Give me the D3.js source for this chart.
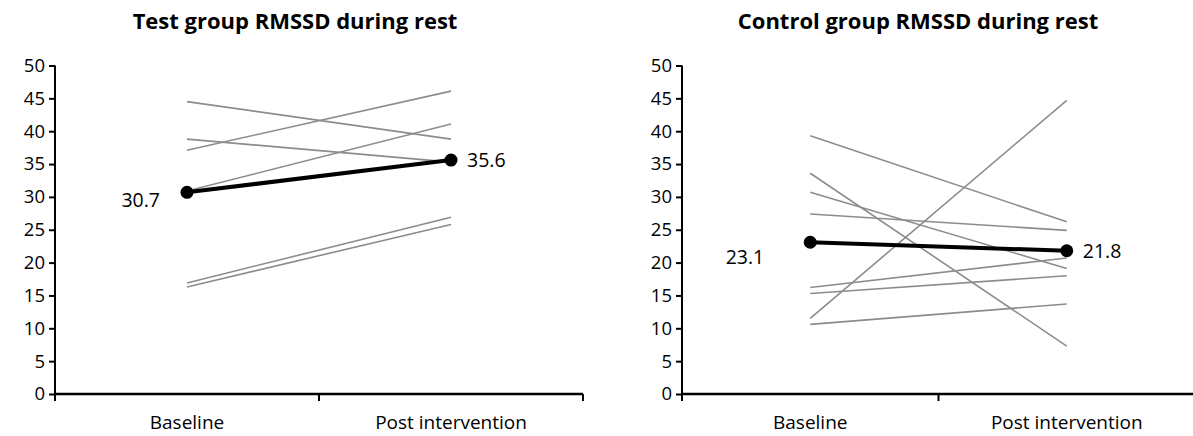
<!DOCTYPE html>
<html>
<head>
<meta charset="utf-8">
<script src="https://cdn.jsdelivr.net/npm/d3@7"></script>
<style>
  body { margin: 0; background: #fff; }
  svg text { font-family: "Open Sans", "Noto Sans", sans-serif; fill: #000; }
</style>
</head>
<body>
<section></section>
<script>
// categories and axis ticks
var phases = ["Baseline", "Post intervention"];
var yTicks = [0, 5, 10, 15, 20, 25, 30, 35, 40, 45, 50];

// test group: one [baseline, post] pair per subject
var testSubjects = [
  [44.5, 38.8],
  [38.8, 35.3],
  [37.1, 46.1],
  [30.9, 41.1],
  [16.9, 26.9],
  [16.3, 25.8]
];
var testMean = [30.7, 35.6];

// control group
var controlSubjects = [
  [39.3, 26.2],
  [33.6, 7.3],
  [30.7, 19.1],
  [27.4, 24.9],
  [16.2, 20.7],
  [15.3, 18.0],
  [11.5, 44.7],
  [10.6, 13.7]
];
var controlMean = [23.1, 21.8];

var svg = d3.select("section").append("svg")
  .attr("width", 1193)
  .attr("height", 436);

function drawPanel(opts) {
  var x = d3.scaleBand()
    .domain(phases)
    .range([opts.left, opts.right]);
  var y = d3.scaleLinear()
    .domain([0, 50])
    .range([394, 65.5]);

  var g = svg.append("g");

  // title
  g.append("text")
    .attr("x", opts.titleX)
    .attr("y", 29)
    .attr("text-anchor", "middle")
    .style("font-size", "22px")
    .style("font-weight", "bold")
    .text(opts.title);

  // y axis
  var yAxis = g.append("g")
    .attr("transform", "translate(" + opts.left + ",0)")
    .call(d3.axisLeft(y).tickValues(yTicks).tickSize(6).tickPadding(4));
  yAxis.select(".domain").attr("stroke", "#000").attr("stroke-width", 2).attr("d", "M0," + y(50) + "V" + y(0));
  yAxis.selectAll(".tick line").attr("stroke", "#000").attr("stroke-width", 2);
  yAxis.selectAll(".tick text").style("font-size", "18.5px").attr("fill", "#000");

  // x axis
  var xAxis = g.append("g")
    .attr("transform", "translate(0," + y(0) + ")");
  xAxis.append("line")
    .attr("x1", opts.left).attr("x2", opts.right)
    .attr("stroke", "#000").attr("stroke-width", 2.5);
  var bounds = [opts.left].concat(phases.map(function(p) { return x(p) + x.bandwidth(); }));
  xAxis.selectAll(".xtick")
    .data(bounds)
    .enter().append("line")
    .attr("x1", function(d) { return d; })
    .attr("x2", function(d) { return d; })
    .attr("y1", 0).attr("y2", 7)
    .attr("stroke", "#000").attr("stroke-width", 2);
  xAxis.selectAll(".xlabel")
    .data(phases)
    .enter().append("text")
    .attr("x", function(d) { return x(d) + x.bandwidth() / 2; })
    .attr("y", 35)
    .attr("text-anchor", "middle")
    .style("font-size", "19px")
    .text(function(d) { return d; });

  var cx = function(i) { return x(phases[i]) + x.bandwidth() / 2; };
  var line = d3.line()
    .x(function(d, i) { return cx(i); })
    .y(function(d) { return y(d); });

  // individual subjects
  g.selectAll(".subject")
    .data(opts.subjects)
    .enter().append("path")
    .attr("class", "subject")
    .attr("d", line)
    .attr("fill", "none")
    .attr("stroke", "#8c8c8c")
    .attr("stroke-width", 1.6);

  // group mean
  g.append("path")
    .attr("d", line(opts.mean))
    .attr("fill", "none")
    .attr("stroke", "#000")
    .attr("stroke-width", 4);
  g.selectAll(".meandot")
    .data(opts.mean)
    .enter().append("circle")
    .attr("cx", function(d, i) { return cx(i); })
    .attr("cy", function(d) { return y(d); })
    .attr("r", 6.5)
    .attr("fill", "#000");

  // mean labels
  g.append("text")
    .attr("x", cx(0) - opts.leftLabelDx)
    .attr("y", y(opts.mean[0]) + opts.leftLabelDy)
    .attr("text-anchor", "end")
    .attr("dy", "0.35em")
    .style("font-size", "19.5px")
    .text(opts.mean[0].toFixed(1));
  g.append("text")
    .attr("x", cx(1) + 16)
    .attr("y", y(opts.mean[1]))
    .attr("dy", "0.35em")
    .style("font-size", "19.5px")
    .text(opts.mean[1].toFixed(1));
}

drawPanel({
  title: "Test group RMSSD during rest", titleX: 295,
  left: 55, right: 583,
  subjects: testSubjects, mean: testMean,
  leftLabelDx: 27, leftLabelDy: 8
});

drawPanel({
  title: "Control group RMSSD during rest", titleX: 918,
  left: 682, right: 1195,
  subjects: controlSubjects, mean: controlMean,
  leftLabelDx: 46, leftLabelDy: 15
});
</script>
</body>
</html>
